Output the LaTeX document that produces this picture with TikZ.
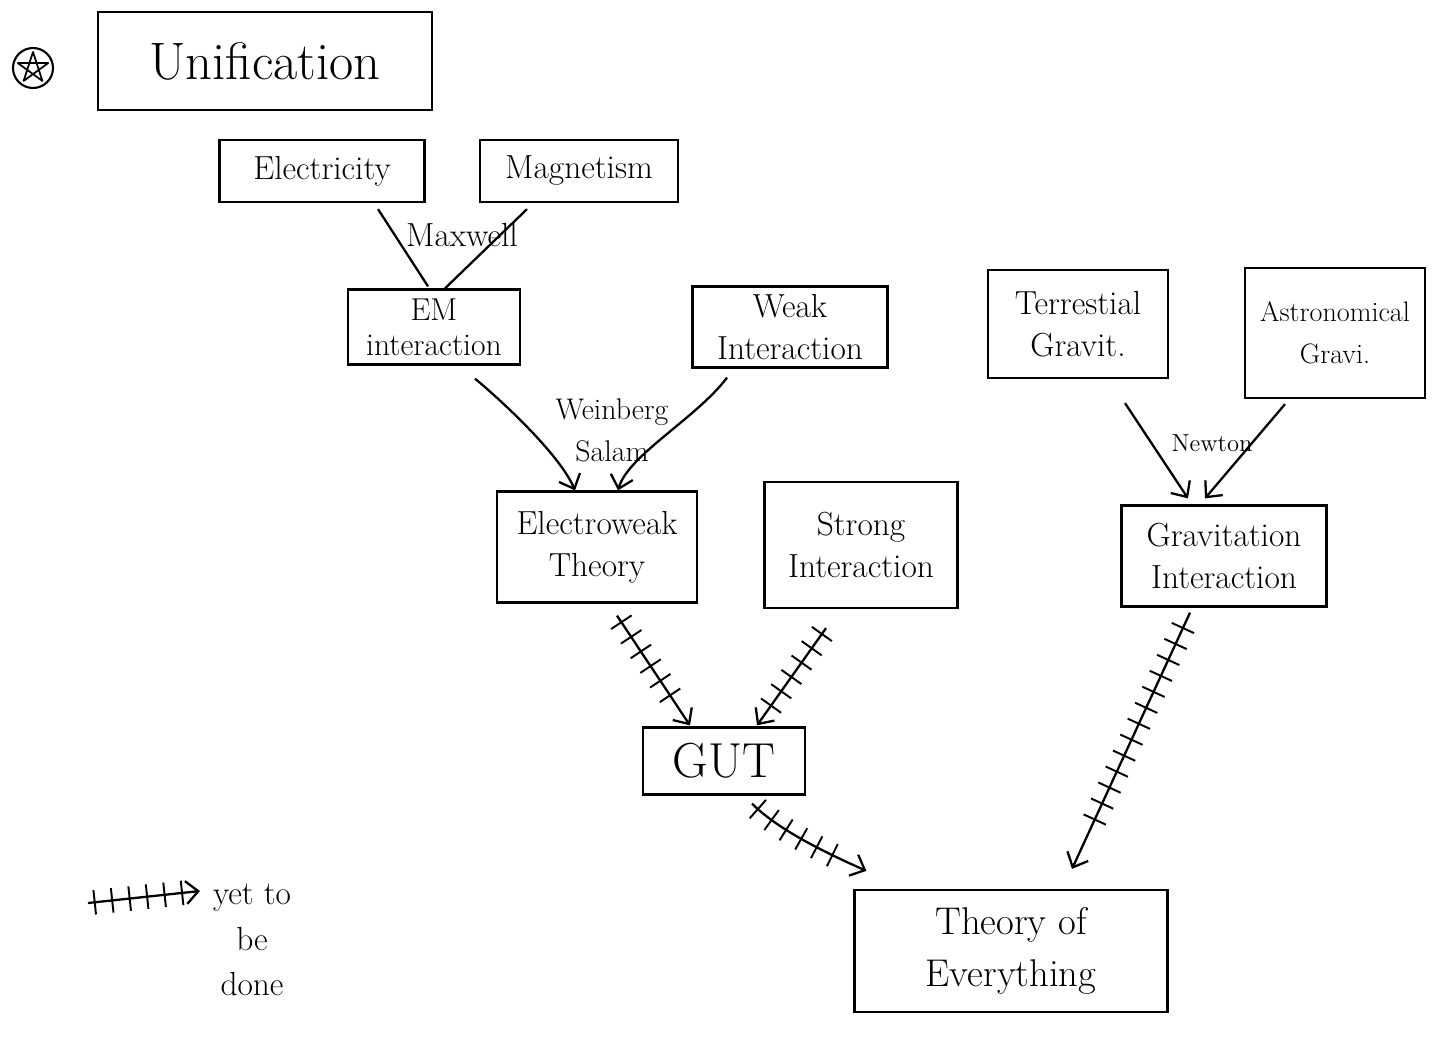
\documentclass[tikz,border=0pt]{standalone}
\usepackage{amssymb}
\usepackage{tikz}
\usetikzlibrary{shapes.geometric, arrows.meta, positioning, calc, decorations.markings}

\tikzset{
  box/.style={draw, rectangle, line width=1.3pt, align=center, inner sep=2pt, font=\fontsize{19}{24}\selectfont},
  tag/.style={font=\fontsize{16}{20}\selectfont, align=center},
  link/.style={line width=1.3pt},
  known/.style={link, -{Straight Barb[length=7pt,width=13pt]}},
  pending/.style={known, postaction={decorate},
    decoration={markings, mark=between positions 0.06 and 0.84 step 10pt with {\draw [-, line width=1.1pt] (0pt,-7pt) -- (0pt,7pt);}}},
}

\begin{document}
\begin{tikzpicture}[x=0.02cm, y=-0.02cm]
\useasboundingbox (0,0) rectangle (1443,1041);

\node [circle, draw, line width=1.2pt, minimum size=0.8cm] (badge) at (33,68) {};
\draw [line width=1pt, line join=round] ($(badge.center)+(90:0.32cm)$) -- ($(badge.center)+(234:0.32cm)$)
  -- ($(badge.center)+(18:0.32cm)$) -- ($(badge.center)+(162:0.32cm)$) -- ($(badge.center)+(306:0.32cm)$) -- cycle;
\node [box, minimum width=6.68cm, minimum height=1.96cm, font=\fontsize{30}{34}\selectfont] (unif) at (265,61) {Unification};

\node [box, minimum width=4.1cm, minimum height=1.24cm] (elec) at (322,171) {Electricity};
\node [box, minimum width=3.96cm, minimum height=1.24cm] (mag) at (579,171) {Magnetism};
\node [box, minimum width=3.44cm, minimum height=1.5cm, font=\fontsize{18}{20}\selectfont] (em) at (434,327) {EM\\interaction};
\node [box, minimum width=3.9cm, minimum height=1.62cm] (weak) at (790,327) {Weak\\Interaction};
\node [box, minimum width=4.0cm, minimum height=2.22cm] (ew) at (597,547) {Electroweak\\Theory};
\node [box, minimum width=3.86cm, minimum height=2.52cm] (strong) at (861,545) {Strong\\Interaction};
\node [box, minimum width=3.6cm, minimum height=2.16cm] (terr) at (1078,324) {Terrestial\\Gravit.};
\node [box, minimum width=3.6cm, minimum height=2.6cm, font=\fontsize{16}{24}\selectfont] (astro) at (1335,333) {Astronomical\\Gravi.};
\node [box, minimum width=4.1cm, minimum height=2.02cm] (grav) at (1224,556) {Gravitation\\Interaction};
\node [box, minimum width=3.24cm, minimum height=1.34cm, font=\fontsize{28}{32}\selectfont] (gut) at (724,761) {GUT};
\node [box, minimum width=6.26cm, minimum height=2.44cm, font=\fontsize{22}{30}\selectfont] (toe) at (1011,951) {Theory of\\Everything};

\draw [link] ($(elec.south)+(56,6)$) -- ($(em.north)+(-6,-2)$);
\draw [link] ($(mag.south)+(-52,6)$) -- ($(em.north)+(11,0)$);
\node [tag, font=\fontsize{19}{22}\selectfont] (maxwell) at (462,235) {Maxwell};

\draw [known] ($(em.south)+(41,13)$) .. controls +(30,25) and +(-15,-35) .. ($(ew.north)+(-22,0)$);
\draw [known] ($(weak.south)+(-63,9)$) .. controls +(-30,40) and +(10,-35) .. ($(ew.north)+(21,0)$);
\node [tag, font=\fontsize{17}{24}\selectfont] (ws) at (612,430) {Weinberg\\Salam};

\draw [known] ($(terr.south)+(47,24)$) -- ($(grav.north)+(-36,-6)$);
\draw [known] ($(astro.south)+(-50,5)$) -- ($(grav.north)+(-19,-6)$);
\node [tag, font=\fontsize{14}{18}\selectfont] (newton) at (1212,443) {Newton};

\draw [pending] ($(ew.south)+(20,12)$) -- ($(gut.north)+(-34,-1)$);
\draw [pending] ($(strong.south)+(-35,19)$) -- ($(gut.north)+(33,-1)$);
\draw [pending] ($(grav.south)+(-34,5)$) -- ($(toe.north)+(61,-20)$);
\draw [pending] ($(gut.south)+(28,8)$) .. controls +(25,25) and +(-45,-20) .. ($(toe.north west)+(13,-18)$);

\coordinate (keystart) at (88,903);
\coordinate (keyend) at (200,891);
\draw [pending] (keystart) -- (keyend);
\node [font=\fontsize{19}{26}\selectfont, align=center] (keytext) at (252,940) {yet to\\be\\done};
\end{tikzpicture}
\end{document}
